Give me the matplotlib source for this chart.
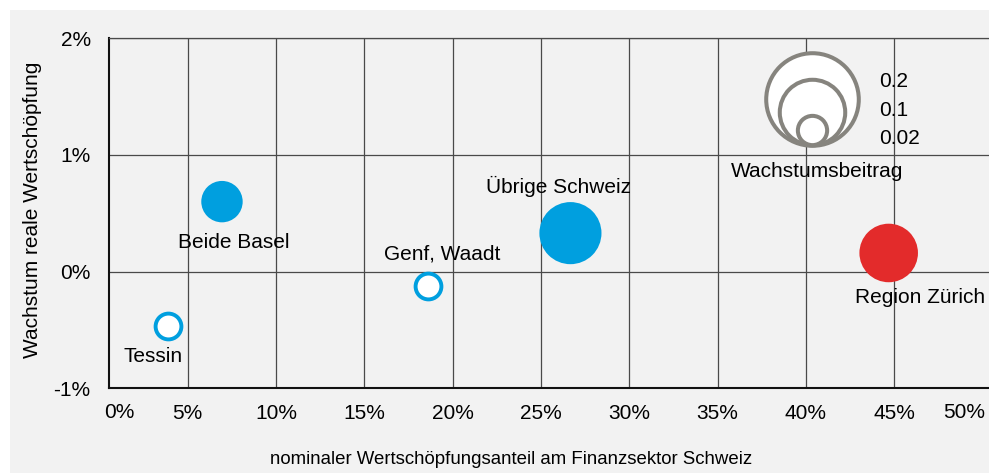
import numpy as np
import matplotlib.pyplot as plt
import matplotlib.transforms as mtransforms
from matplotlib.patches import Rectangle

plt.rcParams['font.family'] = ['Liberation Sans', 'DejaVu Sans']

# data
regions = ['Tessin', 'Beide Basel', 'Genf, Waadt', 'Übrige Schweiz', 'Region Zürich']
share = [3.87, 6.94, 18.62, 26.67, 44.69]        # % nominal value-added share
growth = [-0.47, 0.60, -0.12, 0.33, 0.16]        # % real growth
contrib = [-0.02, 0.04, -0.02, 0.09, 0.08]       # Wachstumsbeitrag
colors = ['#009fdf', '#009fdf', '#009fdf', '#009fdf', '#e32b2b']
legend_vals = [0.2, 0.1, 0.02]
xticks = [5, 10, 15, 20, 25, 30, 35, 40, 45]
yticks = [-1, 0, 1, 2]

# label offsets in pixels (dx, dy; dy positive = up)
label_off = [(-15, -30), (12, -41), (14, 32), (-12, 47), (31, -45)]

K = 207.0  # diameter in px for sqrt(value)=1
bg = '#f2f2f2'
fs = 15

fig = plt.figure(figsize=(9.89, 4.73), dpi=100, facecolor='white')
fig.patches.append(Rectangle((10 / 989, 0), 1, 463 / 473, transform=fig.transFigure,
                             facecolor=bg, edgecolor='none', zorder=-10))
ax = fig.add_axes([109.3 / 989, (473 - 388.3) / 473, (989 - 109.3) / 989, 350 / 473])
ax.set_facecolor(bg)
ax.set_xlim(0.56, 50.37)
ax.set_ylim(-1, 2)

ax.set_xticks(xticks)
ax.set_xticklabels([f'{t}%' for t in xticks])
ax.set_yticks(yticks)
ax.set_yticklabels([f'{t}%' for t in yticks])
ax.tick_params(length=0, labelsize=fs)
ax.tick_params(axis='x', pad=11.5)
ax.tick_params(axis='y', pad=13.4)
ax.grid(True, color='#4a4a4a', linewidth=0.9)
ax.set_axisbelow(True)
for s in ['left', 'bottom']:
    ax.spines[s].set_color('#111111')
    ax.spines[s].set_linewidth(1.5)
ax.spines['top'].set_color('#4a4a4a')
ax.spines['top'].set_linewidth(0.9)
ax.spines['right'].set_visible(False)

# end labels of the x axis
fig.text(119 / 989, 1 - 412 / 473, '0%', ha='center', va='center', fontsize=fs)
fig.text(964 / 989, 1 - 412 / 473, '50%', ha='center', va='center', fontsize=fs)

# bubbles
for x, y, v, c, name, (dx, dy) in zip(share, growth, contrib, colors, regions, label_off):
    d_pt = K * np.sqrt(abs(v)) * 0.72
    if v < 0:
        ax.scatter([x], [y], s=(d_pt - 2.5) ** 2, facecolor='white', edgecolor=c,
                   linewidth=2.8, zorder=3)
    else:
        ax.scatter([x], [y], s=d_pt ** 2, facecolor=c, edgecolor='none', zorder=3)
    ax.annotate(name, (x, y), xytext=(dx * 0.72, dy * 0.72), textcoords='offset points',
                ha='center', va='center', fontsize=fs, zorder=4)

# size legend
lx, ly = 40.35, 1.086
for v in legend_vals:
    d_pt = K * np.sqrt(v) * 0.72
    tr = mtransforms.offset_copy(ax.transData, fig=fig, x=0, y=d_pt / 2, units='points')
    ax.scatter([lx], [ly], s=d_pt ** 2, facecolor='white', edgecolor='#86847e',
               linewidth=2.9, transform=tr, zorder=3)
for v, ypx in zip(legend_vals, [81.7, 110, 138.3]):
    fig.text(879 / 989, 1 - ypx / 473, str(v), ha='left', va='center', fontsize=fs)
fig.text(816.7 / 989, 1 - 171.7 / 473, 'Wachstumsbeitrag', ha='center', va='center', fontsize=fs)

fig.text(511 / 989, 1 - 459 / 473, 'nominaler Wertschöpfungsanteil am Finanzsektor Schweiz',
         ha='center', va='center', fontsize=13.4)
fig.text(33 / 989, 1 - 210 / 473, 'Wachstum reale Wertschöpfung', rotation=90,
         ha='center', va='center', fontsize=fs)

fig.savefig('out.png', dpi=100, facecolor='white')
